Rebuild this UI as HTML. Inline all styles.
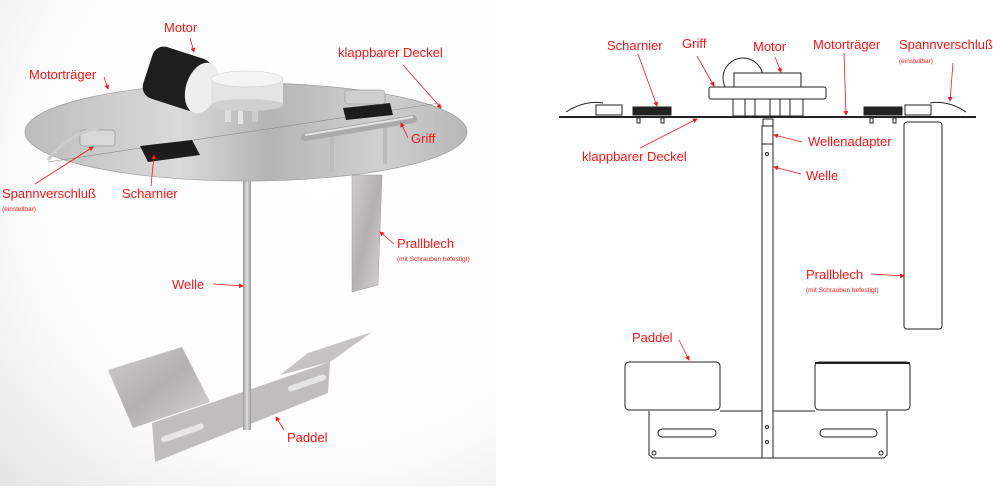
<!DOCTYPE html>
<html><head><meta charset="utf-8"><style>
html,body{margin:0;padding:0;background:#fff}
svg{display:block}
text{font-family:"Liberation Sans",sans-serif;fill:#f01818}
.s{font-size:6.5px}
</style></head><body>
<svg width="1000" height="493" viewBox="0 0 1000 493" xmlns="http://www.w3.org/2000/svg">
<defs>
<radialGradient id="bg" cx="0.65" cy="0.35" r="0.95">
<stop offset="0" stop-color="#ffffff"/><stop offset="0.65" stop-color="#fbfbfb"/><stop offset="1" stop-color="#e2e2e2"/></radialGradient>
<linearGradient id="deck" x1="0" y1="0" x2="1" y2="0">
<stop offset="0" stop-color="#bcbcbc"/><stop offset="0.35" stop-color="#dadada"/><stop offset="0.55" stop-color="#b4b4b4"/><stop offset="0.8" stop-color="#d0d0d0"/><stop offset="1" stop-color="#b8b8b8"/></linearGradient>
<linearGradient id="met" x1="0" y1="0" x2="1" y2="1">
<stop offset="0" stop-color="#d0cecc"/><stop offset="0.5" stop-color="#b3b1af"/><stop offset="1" stop-color="#d8d6d4"/></linearGradient>
<linearGradient id="shaft" x1="0" y1="0" x2="1" y2="0">
<stop offset="0" stop-color="#9a9a9a"/><stop offset="0.5" stop-color="#dedede"/><stop offset="1" stop-color="#9a9a9a"/></linearGradient>
<marker id="ar" markerWidth="6" markerHeight="6" refX="5" refY="3" orient="auto"><path d="M0,0 L6,3 L0,6 z" fill="#f01818"/></marker>
</defs>
<rect x="0" y="0" width="496" height="486" fill="url(#bg)"/>
<!-- LEFT render -->
<rect x="243" y="175" width="8" height="255" fill="url(#shaft)"/>
<polygon points="352,175 382,175 378,285 352,292" fill="url(#met)" stroke="#999" stroke-width="0.5"/>
<polygon points="280,375 308,353 372,332 330,362" fill="#c6c4c2"/>
<polygon points="152,423 330,362 328,393 155,462" fill="#c0bebc"/>
<rect x="160" y="430" width="45" height="6" rx="3" fill="#e6e6e6" transform="rotate(-19 182 433)"/>
<rect x="287" y="380" width="40" height="6" rx="3" fill="#e6e6e6" transform="rotate(-19 307 383)"/>
<polygon points="108,370 182,347 210,402 133,428" fill="url(#met)"/>
<rect x="243" y="340" width="8" height="90" fill="url(#shaft)"/>
<ellipse cx="246" cy="132" rx="221" ry="49" fill="url(#deck)" stroke="#9a9a9a" stroke-width="0.7"/>
<line x1="48" y1="162" x2="440" y2="103" stroke="#888" stroke-width="0.6"/>
<!-- motor -->
<rect x="225" y="100" width="6" height="22" fill="#ddd"/><rect x="252" y="100" width="6" height="22" fill="#ccc"/><rect x="238" y="100" width="5" height="24" fill="#e6e6e6"/>
<g transform="rotate(18 178 80)"><rect x="146" y="52" width="62" height="54" rx="12" fill="#1e1e1e"/></g>
<ellipse cx="202" cy="88" rx="16" ry="26" fill="#eeeeee" transform="rotate(18 202 88)"/>
<rect x="211" y="79" width="72" height="26" fill="#e4e4e4"/>
<ellipse cx="247" cy="105" rx="36" ry="6" fill="#d0d0d0"/>
<ellipse cx="247" cy="79" rx="36" ry="8" fill="#f4f4f4" stroke="#ccc" stroke-width="0.5"/>
<!-- hinges / latches -->
<polygon points="140,146 192,140 200,155 148,162" fill="#1c1c1c"/>
<polygon points="343,108 390,103 393,115 346,120" fill="#1c1c1c"/>
<rect x="345" y="90" width="40" height="14" rx="3" fill="#cfcfcf" stroke="#888" stroke-width="0.5"/>
<rect x="80" y="130" width="35" height="16" rx="3" fill="#d8d8d8" stroke="#777" stroke-width="0.5"/>
<path d="M48,160 Q70,132 100,128" stroke="#ccc" stroke-width="3" fill="none"/>
<!-- griff -->
<rect x="330" y="130" width="4" height="42" fill="#bbb"/><rect x="383" y="122" width="4" height="42" fill="#bbb"/>
<line x1="305" y1="137" x2="413" y2="119" stroke="#aaa" stroke-width="8" stroke-linecap="round"/>
<line x1="305" y1="135" x2="413" y2="117" stroke="#e4e4e4" stroke-width="2"/>
<!-- left labels -->
<text x="164" y="32" font-size="13">Motor</text>
<line x1="190" y1="38" x2="194" y2="52" stroke="#f01818" stroke-width="0.8" marker-end="url(#ar)"/>
<text x="338" y="57" font-size="13">klappbarer Deckel</text>
<line x1="403" y1="65" x2="441" y2="108" stroke="#f01818" stroke-width="0.8" marker-end="url(#ar)"/>
<text x="29" y="79" font-size="13">Motorträger</text>
<line x1="104" y1="77" x2="108" y2="89" stroke="#f01818" stroke-width="0.8" marker-end="url(#ar)"/>
<text x="411" y="143" font-size="13">Griff</text>
<line x1="408" y1="138" x2="401" y2="123" stroke="#f01818" stroke-width="0.8" marker-end="url(#ar)"/>
<text x="2" y="198" font-size="13">Spannverschluß</text>
<text x="2" y="211" class="s">(einstellbar)</text>
<line x1="35" y1="184" x2="93" y2="147" stroke="#f01818" stroke-width="0.8" marker-end="url(#ar)"/>
<text x="122" y="198" font-size="13">Scharnier</text>
<line x1="151" y1="186" x2="154" y2="155" stroke="#f01818" stroke-width="0.8" marker-end="url(#ar)"/>
<text x="397" y="248" font-size="13">Prallblech</text>
<text x="397" y="261" class="s">(mit Schrauben befestigt)</text>
<line x1="394" y1="244" x2="380" y2="232" stroke="#f01818" stroke-width="0.8" marker-end="url(#ar)"/>
<text x="172" y="289" font-size="13">Welle</text>
<line x1="213" y1="284" x2="243" y2="286" stroke="#f01818" stroke-width="0.8" marker-end="url(#ar)"/>
<text x="287" y="442" font-size="13">Paddel</text>
<line x1="284" y1="430" x2="276" y2="417" stroke="#f01818" stroke-width="0.8" marker-end="url(#ar)"/>

<!-- RIGHT drawing -->
<g stroke="#222" stroke-width="1" fill="none">
<line x1="559" y1="117" x2="976" y2="117" stroke-width="2"/>
<path d="M566,112 Q585,100 603,103" />
<path d="M966,112 Q948,100 930,103"/>
<rect x="596" y="105" width="26" height="10" fill="#fff"/>
<rect x="633" y="107" width="38" height="8" fill="#222"/>
<rect x="864" y="107" width="38" height="8" fill="#222"/>
<rect x="905" y="105" width="26" height="10" fill="#fff"/>
<rect x="637" y="118" width="3" height="5"/><rect x="661" y="118" width="3" height="5"/>
<rect x="870" y="118" width="3" height="5"/><rect x="893" y="118" width="3" height="5"/>
<circle cx="743" cy="78" r="20"/>
<rect x="734" y="73" width="67" height="14" fill="#fff"/>
<rect x="709" y="87" width="117" height="12" rx="2" fill="#fff"/>
<rect x="733" y="99" width="70" height="17" fill="#fff"/>
<line x1="745" y1="99" x2="745" y2="116"/><line x1="755" y1="99" x2="755" y2="116"/><line x1="770" y1="99" x2="770" y2="116"/><line x1="780" y1="99" x2="780" y2="116"/><line x1="790" y1="99" x2="790" y2="116"/>
<rect x="763" y="119" width="10" height="7"/>
<rect x="762" y="126" width="11" height="332" fill="#fff"/>
<line x1="762" y1="144" x2="773" y2="144"/>
<circle cx="767" cy="154" r="1.5"/><circle cx="767" cy="427" r="1.5"/><circle cx="767" cy="442" r="1.5"/>
<rect x="904" y="122" width="38" height="207" rx="3"/>
<rect x="625" y="362" width="95" height="48" rx="4"/>
<rect x="815" y="362" width="95" height="48" rx="4"/>
<line x1="815" y1="363" x2="910" y2="363" stroke-width="2"/>
<polyline points="649,411 649,455 653,458 884,458 887,455 887,411"/>
<line x1="720" y1="411" x2="762" y2="411"/><line x1="773" y1="411" x2="815" y2="411"/>
<rect x="658" y="429" width="58" height="8" rx="4"/>
<rect x="820" y="429" width="57" height="8" rx="4"/>
<circle cx="654" cy="453" r="2"/><circle cx="881" cy="453" r="2"/>
</g>
<text x="607" y="50" font-size="13">Scharnier</text>
<line x1="638" y1="54" x2="657" y2="106" stroke="#f01818" stroke-width="0.8" marker-end="url(#ar)"/>
<text x="682" y="48" font-size="13">Griff</text>
<line x1="697" y1="56" x2="714" y2="86" stroke="#f01818" stroke-width="0.8" marker-end="url(#ar)"/>
<text x="753" y="51" font-size="13">Motor</text>
<line x1="775" y1="57" x2="781" y2="72" stroke="#f01818" stroke-width="0.8" marker-end="url(#ar)"/>
<text x="813" y="49" font-size="13">Motorträger</text>
<line x1="844" y1="53" x2="846" y2="115" stroke="#f01818" stroke-width="0.8" marker-end="url(#ar)"/>
<text x="899" y="49" font-size="13">Spannverschluß</text>
<text x="899" y="63" class="s">(einstellbar)</text>
<line x1="953" y1="63" x2="950" y2="101" stroke="#f01818" stroke-width="0.8" marker-end="url(#ar)"/>
<text x="582" y="161" font-size="13">klappbarer Deckel</text>
<line x1="640" y1="148" x2="697" y2="119" stroke="#f01818" stroke-width="0.8" marker-end="url(#ar)"/>
<text x="808" y="146" font-size="13">Wellenadapter</text>
<line x1="802" y1="142" x2="774" y2="135" stroke="#f01818" stroke-width="0.8" marker-end="url(#ar)"/>
<text x="806" y="180" font-size="13">Welle</text>
<line x1="801" y1="174" x2="774" y2="167" stroke="#f01818" stroke-width="0.8" marker-end="url(#ar)"/>
<text x="806" y="279" font-size="13">Prallblech</text>
<text x="806" y="292" class="s">(mit Schrauben befestigt)</text>
<line x1="871" y1="274" x2="904" y2="276" stroke="#f01818" stroke-width="0.8" marker-end="url(#ar)"/>
<text x="632" y="342" font-size="13">Paddel</text>
<line x1="679" y1="340" x2="689" y2="360" stroke="#f01818" stroke-width="0.8" marker-end="url(#ar)"/>
</svg>
</body></html>
